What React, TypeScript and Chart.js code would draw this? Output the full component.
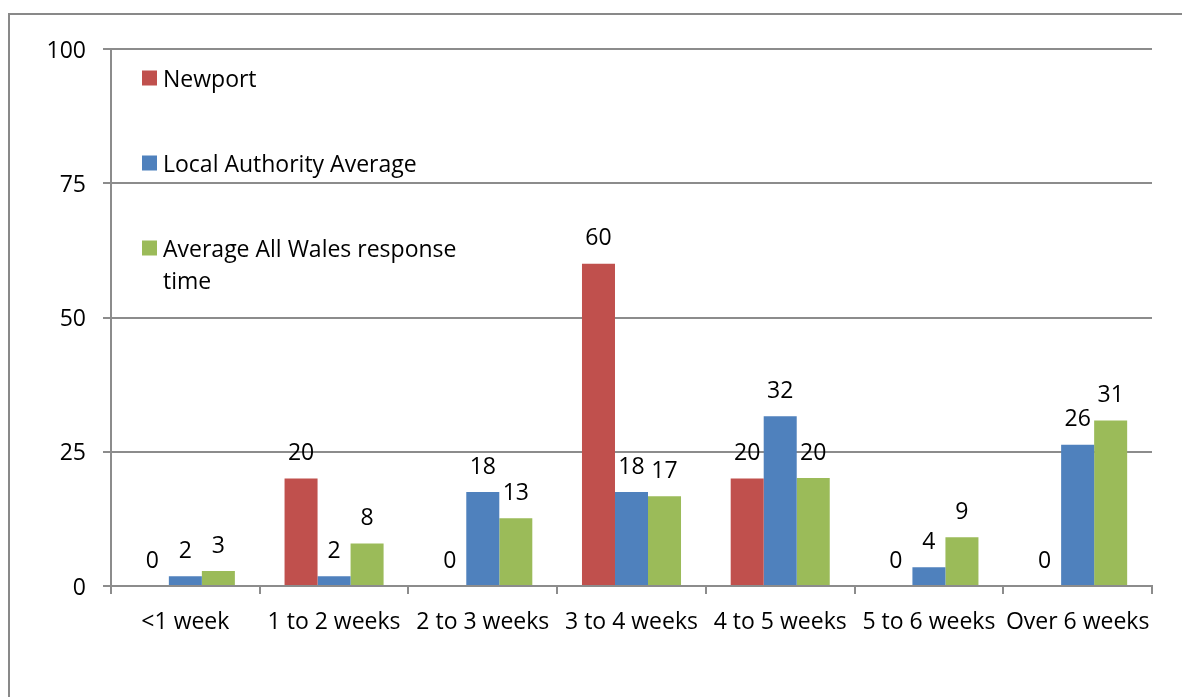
import React, { useEffect, useRef } from "react";
import { Chart, registerables } from "chart.js";

Chart.register(...registerables);

const categories = [
  "<1 week",
  "1 to 2 weeks",
  "2 to 3 weeks",
  "3 to 4 weeks",
  "4 to 5 weeks",
  "5 to 6 weeks",
  "Over 6 weeks",
];
const newport = [0, 20, 0, 60, 20, 0, 0];
const localAuthorityAverage = [1.8, 1.8, 17.5, 17.5, 31.6, 3.5, 26.3];
const allWalesAverage = [2.8, 7.9, 12.6, 16.7, 20.1, 9.1, 30.8];
const yTicks = [0, 25, 50, 75, 100];

const seriesNames = ["Newport", "Local Authority Average", "Average All Wales response time"];
const legendLines = [["Newport"], ["Local Authority Average"], ["Average All Wales response", "time"]];
const colors = ["#C0504D", "#4F81BD", "#9BBB59"];

const FONT = "'Open Sans', 'Noto Sans', sans-serif";
const FONT_SIZE = 23;
const GRID = "#8c8c8c";

const framePlugin = {
  id: "frame",
  beforeDraw(chart: any) {
    const ctx = chart.ctx;
    ctx.save();
    ctx.fillStyle = "#ffffff";
    ctx.fillRect(0, 0, chart.width, chart.height);
    ctx.strokeStyle = "#898989";
    ctx.lineWidth = 2;
    ctx.strokeRect(9, 14, chart.width + 50, chart.height + 50);
    ctx.restore();
  },
};

const labelsPlugin = {
  id: "barLabels",
  afterDatasetsDraw(chart: any) {
    const ctx = chart.ctx;
    ctx.save();
    ctx.font = `${FONT_SIZE}px ${FONT}`;
    ctx.fillStyle = "#000000";
    ctx.textAlign = "center";
    ctx.textBaseline = "middle";
    chart.data.datasets.forEach((ds: any, i: number) => {
      const meta = chart.getDatasetMeta(i);
      meta.data.forEach((el: any, j: number) => {
        const v = ds.data[j];
        ctx.fillText(String(Math.round(v)), el.x, el.y - 25);
      });
    });
    ctx.restore();
  },
};

const legendPlugin = {
  id: "customLegend",
  afterDraw(chart: any) {
    const ctx = chart.ctx;
    const area = chart.chartArea;
    ctx.save();
    ctx.font = `${FONT_SIZE}px ${FONT}`;
    ctx.textAlign = "left";
    ctx.textBaseline = "middle";
    const x0 = area.left + 31;
    const ys = [area.top + 29, area.top + 114, area.top + 199];
    chart.data.datasets.forEach((ds: any, i: number) => {
      const y = ys[i];
      ctx.fillStyle = ds.backgroundColor;
      ctx.fillRect(x0, y - 7.5, 15, 15);
      ctx.fillStyle = "#000000";
      legendLines[i].forEach((line: string, k: number) => {
        ctx.fillText(line, x0 + 21, y + 2 + k * 32);
      });
    });
    ctx.restore();
  },
};

export default function App() {
  const ref = useRef<HTMLCanvasElement | null>(null);

  useEffect(() => {
    if (!ref.current) return;
    const chart = new Chart(ref.current, {
      type: "bar",
      data: {
        labels: categories,
        datasets: [newport, localAuthorityAverage, allWalesAverage].map((d, i) => ({
          label: seriesNames[i],
          data: d,
          backgroundColor: colors[i],
          borderWidth: 0,
          categoryPercentage: 0.666,
          barPercentage: 1.0,
        })),
      },
      options: {
        animation: false,
        responsive: false,
        maintainAspectRatio: false,
        layout: { padding: { top: 49, right: 30, left: 0, bottom: 0 } },
        plugins: {
          legend: { display: false },
          tooltip: { enabled: false },
          title: { display: false },
        },
        scales: {
          x: {
            grid: {
              display: true,
              offset: true,
              drawOnChartArea: false,
              drawTicks: true,
              tickLength: 8,
              color: GRID,
              lineWidth: 2,
            },
            border: { display: true, color: GRID, width: 2 },
            ticks: {
              color: "#000000",
              font: { family: FONT, size: FONT_SIZE },
              padding: 15,
              maxRotation: 0,
              autoSkip: false,
            },
            afterFit(scale: any) {
              scale.height = 111;
            },
          },
          y: {
            min: 0,
            max: 100,
            afterBuildTicks(scale: any) {
              scale.ticks = yTicks.map((v) => ({ value: v }));
            },
            grid: {
              display: true,
              drawOnChartArea: true,
              drawTicks: true,
              tickLength: 8,
              color: GRID,
              lineWidth: 2,
            },
            border: { display: true, color: GRID, width: 2 },
            ticks: {
              color: "#000000",
              font: { family: FONT, size: FONT_SIZE },
              padding: 17,
              labelOffset: 2,
            },
            afterFit(scale: any) {
              scale.width = 111;
            },
          },
        },
      },
      plugins: [framePlugin, labelsPlugin, legendPlugin],
    });
    return () => chart.destroy();
  }, []);

  return (
    <div style={{ position: "fixed", left: 0, top: 0, width: 1182, height: 697, overflow: "hidden", background: "#fff" }}>
      <canvas ref={ref} width={1182} height={697} style={{ display: "block", width: 1182, height: 697 }} />
    </div>
  );
}
